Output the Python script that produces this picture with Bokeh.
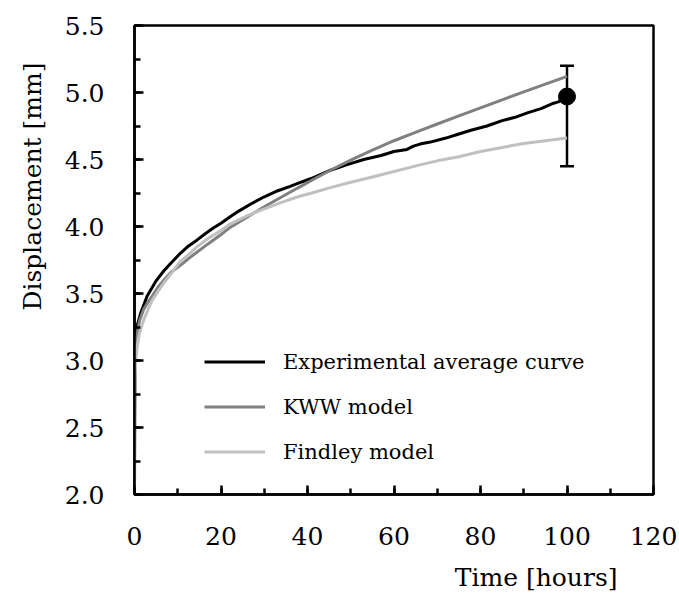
import math
from bokeh.plotting import figure
from bokeh.models import (ColumnDataSource, Legend, LegendItem, Title, Whisker, TeeHead,
                          SingleIntervalTicker, NumeralTickFormatter, Range1d)
from bokeh.embed import file_html
from bokeh.resources import INLINE

# ---------------- data ----------------
exp_time = [0, 0.05, 0.15, 0.3, 0.7, 1.4, 2.9, 4.9, 6.8, 8.5, 10.6, 12.5, 14.5, 16.5, 18.3,
            20, 22.2, 24.1, 27, 29.9, 33, 36, 37.6, 41, 45.3, 49, 53, 57, 60, 63, 64.5, 66,
            68.4, 72, 75, 78, 81.5, 85, 88, 91, 94, 96.9, 98, 99, 100]
exp_disp = [2.0, 2.6, 3.05, 3.18, 3.27, 3.35, 3.48, 3.59, 3.67, 3.73, 3.80, 3.855, 3.90, 3.95, 3.99,
            4.025, 4.075, 4.115, 4.17, 4.22, 4.265, 4.30, 4.32, 4.36, 4.42, 4.46, 4.50, 4.53, 4.56, 4.575, 4.60, 4.615,
            4.63, 4.66, 4.69, 4.72, 4.75, 4.79, 4.815, 4.85, 4.88, 4.92, 4.93, 4.95, 4.97]

kww_time = [0, 0.02, 0.1, 0.3, 0.6, 1.2, 2.1, 3, 4.1, 5.5, 6.8, 8.5, 10.6, 12.5, 14.5, 17, 20,
            22.2, 26, 29.9, 34, 37.6, 41, 45.3, 50, 55, 60, 66, 70, 75, 80, 85, 90, 95, 100]
kww_disp = [2.0, 2.7, 2.95, 3.1, 3.2, 3.3, 3.38, 3.43, 3.48, 3.55, 3.60, 3.66, 3.71, 3.76, 3.81, 3.87, 3.94,
            3.995, 4.07, 4.145, 4.22, 4.285, 4.345, 4.42, 4.495, 4.57, 4.64, 4.715, 4.765, 4.825, 4.885,
            4.945, 5.005, 5.063, 5.12]

findley_time = [0, 0.02, 0.1, 0.3, 0.6, 1.2, 2.1, 3, 4.1, 5.5, 6.8, 8.5, 10.6, 12.5, 14.5, 17, 20,
                22.2, 26, 29.9, 34, 37.6, 41, 45.3, 50, 55, 60, 66, 70, 75, 80, 85, 90, 95, 100]
findley_disp = [2.0, 2.5, 2.85, 3.0, 3.10, 3.21, 3.30, 3.37, 3.45, 3.52, 3.58, 3.65, 3.74, 3.79, 3.85, 3.91,
                3.97, 4.02, 4.08, 4.13, 4.18, 4.22, 4.25, 4.29, 4.33, 4.37, 4.41, 4.46, 4.49, 4.52, 4.56,
                4.59, 4.62, 4.64, 4.66]

err_time = [100]
err_mean = [4.97]
err_low = [4.45]
err_high = [5.2]

series_labels = ["Experimental average curve", "KWW model", "Findley model"]
x_label = "Time [hours]"
y_label = "Displacement [mm]"

# ---------------- figure ----------------
FONT = "DejaVu Serif"

p = figure(width=679, height=604, output_backend="svg", toolbar_location=None,
           x_range=Range1d(0, 120), y_range=Range1d(2.0, 5.5))
p.min_border_left = 134
p.min_border_right = 26
p.min_border_top = 25
p.min_border_bottom = 109
p.background_fill_color = "white"
p.border_fill_color = "white"
p.outline_line_color = "black"
p.outline_line_width = 2.5
p.xgrid.visible = False
p.ygrid.visible = False

p.xaxis.ticker = SingleIntervalTicker(interval=20, num_minor_ticks=2)
p.yaxis.ticker = SingleIntervalTicker(interval=0.5, num_minor_ticks=2)
p.yaxis.formatter = NumeralTickFormatter(format="0.0")
for ax in (p.xaxis, p.yaxis):
    ax.axis_line_width = 2.5
    ax.axis_line_color = "black"
    ax.major_tick_in = 9
    ax.major_tick_out = 0
    ax.minor_tick_in = 6
    ax.minor_tick_out = 0
    ax.major_tick_line_width = 2.5
    ax.minor_tick_line_width = 2.5
    ax.major_tick_line_color = "black"
    ax.minor_tick_line_color = "black"
    ax.major_label_text_font = FONT
    ax.major_label_text_font_size = "25px"
    ax.major_label_text_color = "black"
p.yaxis.major_label_standoff = 30
p.xaxis.major_label_standoff = 32

r_exp = p.line(exp_time, exp_disp, line_color="black", line_width=3)
r_kww = p.line(kww_time, kww_disp, line_color="#808080", line_width=3)
r_fin = p.line(findley_time, findley_disp, line_color="#c0c0c0", line_width=3)

err_src = ColumnDataSource(dict(t=err_time, m=err_mean, lo=err_low, hi=err_high))
wh = Whisker(source=err_src, base="t", upper="hi", lower="lo", dimension="height",
             line_color="black", line_width=2.5,
             upper_head=TeeHead(size=14, line_width=2.5, line_color="black"),
             lower_head=TeeHead(size=14, line_width=2.5, line_color="black"))
p.add_layout(wh)
p.scatter("t", "m", source=err_src, size=17, color="black")

legend = Legend(items=[LegendItem(label=series_labels[0], renderers=[r_exp]),
                       LegendItem(label=series_labels[1], renderers=[r_kww]),
                       LegendItem(label=series_labels[2], renderers=[r_fin])],
                location=(70, 30), orientation="vertical",
                glyph_width=61, glyph_height=25, label_height=25, spacing=20,
                label_standoff=18, padding=0, margin=0,
                border_line_color=None, background_fill_alpha=0,
                label_text_font=FONT, label_text_font_size="21px", label_text_color="black")
p.add_layout(legend)

xt = Title(text=x_label, align="right", offset=36, standoff=26,
           text_font=FONT, text_font_size="25px", text_font_style="normal", text_color="black")
p.add_layout(xt, "below")
yt = Title(text=y_label, align="right", offset=37, standoff=29,
           text_font=FONT, text_font_size="25px", text_font_style="normal", text_color="black")
p.add_layout(yt, "left")

open("out.html", "w").write(file_html(p, INLINE))
